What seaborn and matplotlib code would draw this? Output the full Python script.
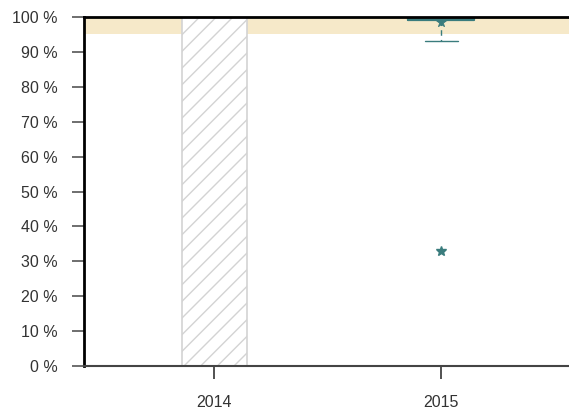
import numpy as np
import pandas as pd
import matplotlib
matplotlib.use("Agg")
import matplotlib.pyplot as plt
import seaborn as sns

# Categories and values
years = ["2014", "2015"]
# 2014: no results available -> hatched placeholder bar over the full range
placeholder = [100, np.nan]
# 2015: individual site rates (%)
rates_2015 = [33, 93, 98.8, 99.2, 99.4, 99.5, 99.6, 100, 100, 100, 100, 100]
overall_rate_2015 = 98.6
# Reference range (%)
ref_low, ref_high = 95, 100
y_ticks = [0, 10, 20, 30, 40, 50, 60, 70, 80, 90, 100]
y_labels = [f"{t} %" for t in y_ticks]

teal = "#3a7c7d"
band = "#f6e9c9"
text_col = "#333333"

sns.set_theme(style="white")
plt.rcParams["font.family"] = ["Liberation Sans", "DejaVu Sans"]
plt.rcParams["hatch.color"] = "#d3d3d3"
plt.rcParams["hatch.linewidth"] = 1.0

fig = plt.figure(figsize=(5.69, 4.15), dpi=100)
ax = fig.add_axes([0.1476, 0.118, 0.855, 0.841])

ax.axhspan(ref_low, ref_high, color=band, zorder=0, lw=0)

bars = pd.DataFrame({"year": years, "value": placeholder})
sns.barplot(data=bars, x="year", y="value", order=years, width=0.29,
            color="white", edgecolor="#d3d3d3", linewidth=1.2,
            hatch="//", ax=ax, zorder=1)

box = pd.DataFrame({"year": ["2015"] * len(rates_2015), "value": rates_2015})
sns.boxplot(data=box, x="year", y="value", order=years, width=0.29,
            fill=False, color=teal, whis=20, linewidth=1.6,
            whiskerprops=dict(linestyle=(0, (4, 3)), linewidth=1.0),
            capprops=dict(linewidth=1.0),
            medianprops=dict(linewidth=2.0),
            flierprops=dict(marker="*", markersize=7, markerfacecolor=teal,
                            markeredgecolor=teal),
            ax=ax, zorder=3)

sns.scatterplot(x=["2015"], y=[overall_rate_2015], marker="*", s=55,
                color=teal, edgecolor=teal, ax=ax, zorder=4, legend=False)

ax.set_xlim(-0.575, 1.57)
ax.set_ylim(0, 100)
ax.set_yticks(y_ticks)
ax.set_yticklabels(y_labels)
ax.set_xlabel("")
ax.set_ylabel("")

ax.tick_params(axis="y", length=9, width=1.2, color="#555555", pad=10,
               labelsize=11.5, labelcolor=text_col, left=True)
ax.tick_params(axis="x", length=9, width=1.2, color="#333333", pad=12,
               labelsize=11.5, labelcolor=text_col, bottom=True)

for s in ["left", "top"]:
    ax.spines[s].set_color("black")
    ax.spines[s].set_linewidth(2)
ax.spines["bottom"].set_color("#444444")
ax.spines["bottom"].set_linewidth(1.5)
ax.spines["right"].set_visible(False)
ax.spines["top"].set_zorder(5)

fig.savefig("out.png", dpi=100)
